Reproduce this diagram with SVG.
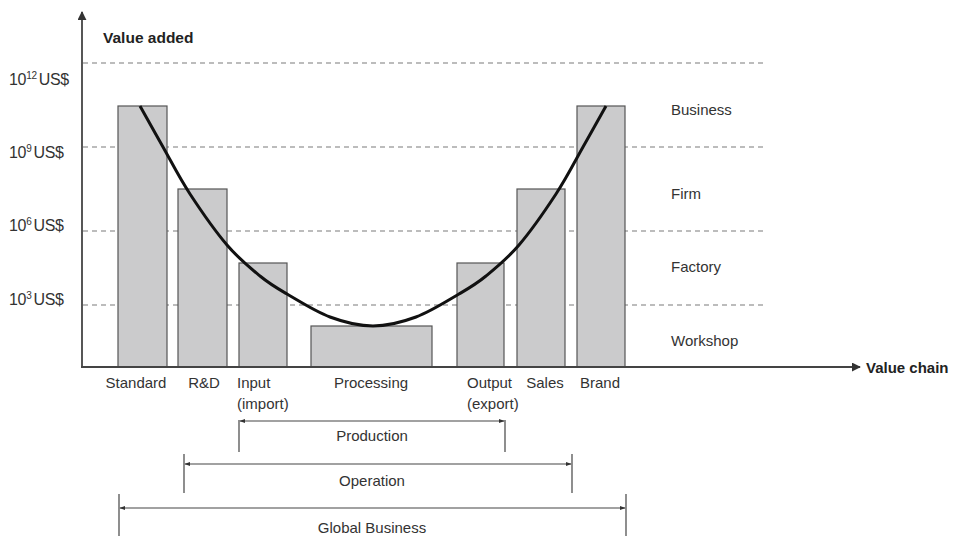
<svg xmlns="http://www.w3.org/2000/svg" width="955" height="536" viewBox="0 0 955 536">
  <style>
    text { font-family: "Liberation Sans", Arial, sans-serif; fill: #333; }
    .lbl { font-size: 15px; }
    .ylbl { font-size: 16px; letter-spacing: -0.3px; }
    .sup { font-size: 10px; }
    .bold { font-weight: bold; fill: #222; }
    .bar { fill: #cbcbcc; stroke: #555; stroke-width: 1.2; }
    .grid { stroke: #7a7a7a; stroke-width: 1.2; stroke-dasharray: 5 4; fill: none; }
    .axis { stroke: #444; stroke-width: 1.8; fill: none; }
    .span { stroke: #444; stroke-width: 1.2; fill: none; }
    .curve { stroke: #111; stroke-width: 3; fill: none; }
  </style>
  <defs>
    <marker id="axisHead" viewBox="0 0 10 10" refX="9" refY="5" markerWidth="5" markerHeight="5" orient="auto">
      <path d="M0,0 L10,5 L0,10 z" fill="#333"/>
    </marker>
    <marker id="spanEnd" viewBox="0 0 10 10" refX="9" refY="5" markerWidth="6" markerHeight="6" markerUnits="userSpaceOnUse" orient="auto-start-reverse">
      <path d="M0,1.5 L10,5 L0,8.5 z" fill="#333"/>
    </marker>
  </defs>

  <!-- value levels -->
  <g id="levels">
    <line class="grid" x1="83" y1="63" x2="764" y2="63"/>
    <line class="grid" x1="83" y1="147" x2="764" y2="147"/>
    <line class="grid" x1="83" y1="231" x2="764" y2="231"/>
    <line class="grid" x1="83" y1="305" x2="764" y2="305"/>
    <text class="ylbl" x="9" y="85">10<tspan class="sup" dy="-6">12</tspan><tspan dy="6" dx="2">US$</tspan></text>
    <text class="ylbl" x="9" y="158">10<tspan class="sup" dy="-6">9</tspan><tspan dy="6" dx="2">US$</tspan></text>
    <text class="ylbl" x="9" y="231">10<tspan class="sup" dy="-6">6</tspan><tspan dy="6" dx="2">US$</tspan></text>
    <text class="ylbl" x="9" y="305">10<tspan class="sup" dy="-6">3</tspan><tspan dy="6" dx="2">US$</tspan></text>
    <text class="lbl" x="671" y="115">Business</text>
    <text class="lbl" x="671" y="199">Firm</text>
    <text class="lbl" x="671" y="272">Factory</text>
    <text class="lbl" x="671" y="346">Workshop</text>
  </g>

  <!-- activities along the chain -->
  <g id="standard">
    <rect class="bar" x="118" y="106" width="49" height="261"/>
    <text class="lbl" x="136" y="388" text-anchor="middle">Standard</text>
  </g>
  <g id="rnd">
    <rect class="bar" x="178" y="189" width="49" height="178"/>
    <text class="lbl" x="204" y="388" text-anchor="middle">R&amp;D</text>
  </g>
  <g id="input">
    <rect class="bar" x="239" y="263" width="48" height="104"/>
    <text class="lbl" x="237" y="388">Input</text>
    <text class="lbl" x="237" y="409">(import)</text>
  </g>
  <g id="processing">
    <rect class="bar" x="311" y="326" width="121" height="41"/>
    <text class="lbl" x="371" y="388" text-anchor="middle">Processing</text>
  </g>
  <g id="output">
    <rect class="bar" x="457" y="263" width="47" height="104"/>
    <text class="lbl" x="467" y="388">Output</text>
    <text class="lbl" x="467" y="409">(export)</text>
  </g>
  <g id="sales">
    <rect class="bar" x="517" y="189" width="48" height="178"/>
    <text class="lbl" x="545" y="388" text-anchor="middle">Sales</text>
  </g>
  <g id="brand">
    <rect class="bar" x="577" y="106" width="48" height="261"/>
    <text class="lbl" x="600" y="388" text-anchor="middle">Brand</text>
  </g>

  <!-- smile curve -->
  <g id="smile-curve">
    <path class="curve" d="M140,106 C143.8,112.8 154.7,132.3 163,147 C171.3,161.7 179.3,177.7 190,194 C200.7,210.3 215.3,231.3 227,245 C238.7,258.7 250,267.8 260,276 C270,284.2 275.3,287.2 287,294 C298.7,300.8 315.7,311.7 330,317 C344.3,322.3 358.7,326 373,326 C387.3,326 401.7,322.3 416,317 C430.3,311.7 447.3,300.8 459,294 C470.7,287.2 476,284.2 486,276 C496,267.8 507.3,258.7 519,245 C530.7,231.3 545.3,210.3 556,194 C566.7,177.7 574.7,161.7 583,147 C591.3,132.3 602.2,112.8 606,106"/>
  </g>

  <!-- axes -->
  <g id="axes">
    <line class="axis" x1="82" y1="368" x2="82" y2="12" marker-end="url(#axisHead)"/>
    <line class="axis" x1="81" y1="367" x2="860" y2="367" marker-end="url(#axisHead)"/>
    <text class="lbl bold" x="103" y="43" style="font-size:15.5px">Value added</text>
    <text class="lbl bold" x="866" y="373">Value chain</text>
  </g>

  <!-- scope spans -->
  <g id="connectors">
    <line class="span" x1="239" y1="420" x2="239" y2="452"/>
    <line class="span" x1="505" y1="420" x2="505" y2="452"/>
    <line class="span" x1="240" y1="421" x2="504" y2="421" marker-start="url(#spanEnd)" marker-end="url(#spanEnd)"/>

    <line class="span" x1="184" y1="454" x2="184" y2="493"/>
    <line class="span" x1="572" y1="454" x2="572" y2="493"/>
    <line class="span" x1="185" y1="464" x2="571" y2="464" marker-start="url(#spanEnd)" marker-end="url(#spanEnd)"/>

    <line class="span" x1="119" y1="494" x2="119" y2="536"/>
    <line class="span" x1="626" y1="494" x2="626" y2="536"/>
    <line class="span" x1="120" y1="508" x2="625" y2="508" marker-start="url(#spanEnd)" marker-end="url(#spanEnd)"/>
  </g>
  <g id="production">
    <text class="lbl" x="372" y="441" text-anchor="middle">Production</text>
  </g>
  <g id="operation">
    <text class="lbl" x="372" y="486" text-anchor="middle">Operation</text>
  </g>
  <g id="global-business">
    <text class="lbl" x="372" y="533" text-anchor="middle">Global Business</text>
  </g>
</svg>
